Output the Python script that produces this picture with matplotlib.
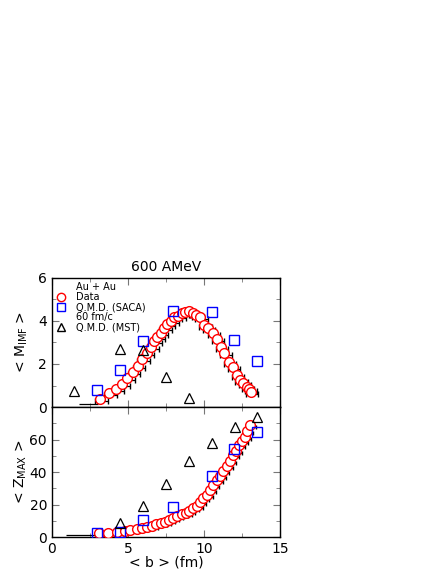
import matplotlib.pyplot as plt
import matplotlib.transforms as mtransforms
from matplotlib.lines import Line2D
from matplotlib.ticker import MultipleLocator

# data, top panel  <M_IMF>
b_m = [3.16, 3.75, 4.21, 4.63, 4.96, 5.31, 5.64, 5.92, 6.23, 6.51, 6.73, 6.93, 7.15,
       7.37, 7.59, 7.83, 8.05, 8.29, 8.55, 8.77, 9.03, 9.30, 9.50, 9.74, 10.0, 10.24,
       10.57, 10.83, 11.1, 11.34, 11.62, 11.89, 12.15, 12.37, 12.59, 12.81, 12.98, 13.07]
m_imf = [0.37, 0.64, 0.85, 1.07, 1.36, 1.64, 1.92, 2.25, 2.5, 2.78, 3.05, 3.27, 3.46,
         3.66, 3.86, 4.01, 4.17, 4.23, 4.36, 4.42, 4.45, 4.36, 4.30, 4.2, 3.81, 3.66,
         3.46, 3.15, 2.78, 2.5, 2.11, 1.85, 1.49, 1.26, 1.1, 0.95, 0.82, 0.71]

saca_b = [2.98, 4.47, 6.0, 7.98, 10.5, 11.99, 13.5]
saca_m = [0.79, 1.72, 3.07, 4.47, 4.4, 3.12, 2.14]
saca_z = [2.3, 3.2, 10.5, 18.3, 37.5, 53.9, 64.4]

mst_b_top = [1.47, 4.47, 6.0, 7.5, 9.03]
mst_m = [0.74, 2.7, 2.65, 1.38, 0.4]
mst_b_bot = [4.47, 6.0, 7.5, 9.03, 10.5, 12.04, 13.5]
mst_z = [8.4, 19.1, 32.6, 46.9, 57.6, 67.9, 74.0]

# data, bottom panel  <Z_MAX>
b_z = [3.11, 3.7, 4.25, 4.8, 5.13, 5.57, 5.9, 6.23, 6.56, 6.84, 7.15, 7.43, 7.72,
       7.98, 8.24, 8.53, 8.79, 9.03, 9.3, 9.52, 9.74, 9.96, 10.18, 10.39, 10.61,
       10.83, 11.05, 11.27, 11.49, 11.71, 11.89, 12.08, 12.3, 12.48, 12.7, 12.85, 13.03]
z_max = [2.3, 2.7, 3.1, 3.7, 4.3, 4.9, 5.5, 6.3, 6.9, 7.8, 8.4, 9.4, 10.5, 11.5,
         12.7, 13.9, 15.0, 16.0, 17.6, 19.0, 21.3, 23.8, 26.0, 28.9, 31.8, 34.8,
         37.5, 40.8, 44.0, 47.0, 50.3, 53.1, 56.4, 59.2, 61.7, 65.4, 68.9]

# lowest-b point, only its error bar is visible
low_b_top, low_m, low_err_top = 2.4, 0.13, 0.6
low_b_bot, low_z, low_err_bot = 1.9, 1.5, 1.0

fig = plt.figure(figsize=(4.48, 5.79), dpi=100)
ax1 = fig.add_axes([0.116, 0.297, 0.509, 0.223])
ax2 = fig.add_axes([0.116, 0.0725, 0.509, 0.2245], sharex=ax1)

# error bars sit a little below / right of the circles
shift = mtransforms.ScaledTranslation(1.5 / 100, -2 / 100, fig.dpi_scale_trans)

ax1.errorbar(b_m, m_imf, xerr=0.4, fmt='none', ecolor='black', elinewidth=0.9,
             capsize=2, transform=ax1.transData + shift, zorder=2)
ax1.errorbar([low_b_top], [low_m], xerr=low_err_top, fmt='none', ecolor='black',
             elinewidth=0.9, capsize=0)
ax1.plot(b_m, m_imf, 'o', mfc='white', mec='red', ms=7, mew=1, zorder=3)
ax1.plot(saca_b, saca_m, 's', mfc='none', mec='blue', ms=6.5, mew=1, zorder=4)
ax1.plot(mst_b_top, mst_m, '^', mfc='none', mec='black', ms=7, mew=0.9, zorder=4)

ax2.errorbar(b_z, z_max, xerr=0.3, fmt='none', ecolor='black', elinewidth=0.9,
             capsize=1.5, transform=ax2.transData + shift, zorder=2)
ax2.errorbar([low_b_bot], [low_z], xerr=low_err_bot, fmt='none', ecolor='black',
             elinewidth=0.9, capsize=0)
ax2.plot(b_z, z_max, 'o', mfc='white', mec='red', ms=7, mew=1, zorder=3)
ax2.plot(saca_b, saca_z, 's', mfc='none', mec='blue', ms=6.5, mew=1, zorder=4)
ax2.plot(mst_b_bot, mst_z, '^', mfc='none', mec='black', ms=7, mew=0.9, zorder=4)

ax1.set_xlim(0, 15)
ax1.set_ylim(0, 6)
ax2.set_ylim(0, 80)
ax1.yaxis.set_major_locator(MultipleLocator(2))
ax1.yaxis.set_minor_locator(MultipleLocator(1))
ax2.yaxis.set_major_locator(MultipleLocator(20))
ax2.yaxis.set_minor_locator(MultipleLocator(10))
ax2.xaxis.set_major_locator(MultipleLocator(5))
ax2.xaxis.set_minor_locator(MultipleLocator(2.5))

for ax in (ax1, ax2):
    ax.tick_params(which='both', direction='in', top=True, right=True,
                   color='#777777', labelsize=10)
    ax.tick_params(which='major', length=5)
    ax.tick_params(which='minor', length=3)
    for s in ax.spines.values():
        s.set_linewidth(1)
ax1.tick_params(labelbottom=False)
ax2.set_yticks([0, 20, 40, 60])

ax1.set_title('600 AMeV', fontsize=10, pad=5)
ax1.set_ylabel('< M$_{\\mathrm{IMF}}$ >', fontsize=10, labelpad=6)
ax2.set_ylabel('< Z$_{\\mathrm{MAX}}$ >', fontsize=10, labelpad=0)
ax2.set_xlabel('< b > (fm)', fontsize=10, labelpad=0)

blank = Line2D([], [], linestyle='none')
handles = [blank,
           Line2D([], [], marker='o', ls='none', mfc='none', mec='red', ms=6),
           Line2D([], [], marker='s', ls='none', mfc='none', mec='blue', ms=6),
           blank,
           Line2D([], [], marker='^', ls='none', mfc='none', mec='black', ms=6)]
labels = ['Au + Au', 'Data', 'Q.M.D. (SACA)', '60 fm/c', 'Q.M.D. (MST)']
ax1.legend(handles, labels, loc='upper left', bbox_to_anchor=(-0.02, 1.02),
           frameon=False, fontsize=7, handlelength=1.4, handletextpad=0.8,
           labelspacing=0.0, borderpad=0.2)

fig.savefig('out.png', dpi=100)
